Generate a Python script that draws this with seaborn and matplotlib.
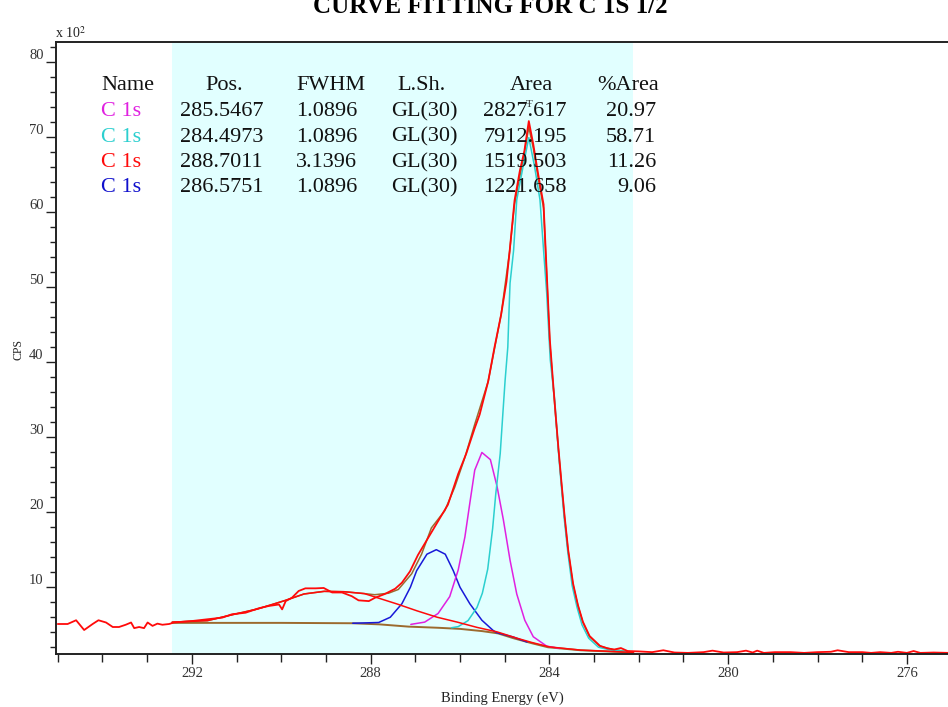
import matplotlib
matplotlib.use("Agg")
import matplotlib.pyplot as plt
import seaborn as sns
from matplotlib.ticker import MultipleLocator

# ---------------- data (binding energy in eV, intensity in CPS x 10^2) ----------------
raw_be = [295.0, 294.78, 294.59, 294.41, 294.22, 294.09, 293.92, 293.77, 293.63, 293.48,
          293.36, 293.29, 293.18, 293.07, 292.99, 292.88, 292.77, 292.66, 292.51, 292.40,
          291.99, 291.62, 291.32, 291.10, 290.80, 290.50, 290.28, 290.05, 289.98, 289.90,
          289.76, 289.61, 289.46, 289.23, 289.05, 288.86, 288.64, 288.42, 288.27, 288.04,
          287.90, 287.68, 287.45, 287.30, 287.12, 286.94, 286.71, 286.49, 286.27, 286.04,
          285.86, 285.67, 285.56, 285.37, 285.23, 285.08, 284.96, 284.89, 284.78, 284.66,
          284.56, 284.46, 284.36, 284.25, 284.13, 284.06, 283.99, 283.92, 283.86, 283.80,
          283.73, 283.66, 283.58, 283.47, 283.36, 283.25, 283.10, 282.87, 282.70, 282.55,
          282.40, 282.25, 282.00, 281.70, 281.45, 281.20, 280.90, 280.55, 280.35, 280.10,
          279.80, 279.60, 279.45, 279.35, 279.20, 278.95, 278.60, 278.30, 278.00, 277.70,
          277.55, 277.30, 277.00, 276.80, 276.60, 276.35, 276.20, 276.00, 275.85, 275.70,
          275.40, 275.05]
raw_cps = [5.1, 5.1, 5.6, 4.3, 5.1, 5.6, 5.3, 4.7, 4.7, 5.0,
           5.3, 4.55, 4.7, 4.55, 5.3, 4.85, 5.15, 5.0, 5.1, 5.3,
           5.5, 5.75, 5.95, 6.4, 6.6, 7.2, 7.5, 7.7, 7.05, 8.15,
           8.6, 9.5, 9.85, 9.85, 9.9, 9.3, 9.3, 8.8, 8.25, 8.15,
           8.6, 9.1, 9.8, 10.6, 12.1, 14.3, 16.6, 18.8, 21.0, 25.1,
           27.8, 31.2, 33.0, 37.4, 41.9, 46.3, 50.7, 54.7, 61.5, 65.5,
           68.1, 72.1, 69.0, 65.0, 61.0, 52.0, 43.0, 37.5, 33.0, 28.7,
           24.0, 19.5, 15.0, 10.5, 7.6, 5.4, 3.5, 2.2, 1.85, 1.7,
           1.9, 1.5, 1.45, 1.35, 1.6, 1.3, 1.25, 1.35, 1.55, 1.3,
           1.35, 1.55, 1.3, 1.55, 1.25, 1.35, 1.35, 1.25, 1.35, 1.4,
           1.6, 1.35, 1.35, 1.25, 1.35, 1.25, 1.4, 1.25, 1.5, 1.25,
           1.3, 1.25]

env_be = [292.44, 291.65, 291.12, 290.53, 289.93, 289.49, 289.04, 288.59, 288.14, 287.91,
          287.60, 287.38, 287.08, 286.86, 286.64, 286.34, 286.12, 285.89, 285.67, 285.37,
          285.08, 284.89, 284.78, 284.56, 284.46, 284.36, 284.25, 284.13, 284.06, 283.99,
          283.92, 283.86, 283.80, 283.73, 283.66, 283.58, 283.47, 283.36, 283.25, 283.10,
          282.87, 282.58, 282.28, 282.12]
env_cps = [5.35, 5.55, 6.3, 7.1, 8.2, 9.1, 9.45, 9.4, 9.15, 9.0,
           9.2, 9.7, 11.8, 14.4, 17.9, 20.2, 23.3, 27.3, 31.7, 37.4,
           46.3, 54.7, 61.0, 67.8, 71.3, 68.5, 64.5, 60.5, 51.5, 42.5,
           37.2, 32.8, 28.5, 23.8, 19.3, 14.8, 10.3, 7.5, 5.3, 3.4,
           2.15, 1.7, 1.45, 1.35]

bg_be = [292.44, 290.00, 288.40, 287.80, 287.15, 286.50, 286.00, 285.50, 285.15, 284.80,
         284.40, 284.03, 283.30, 282.30, 282.12]
bg_cps = [5.25, 5.25, 5.2, 5.05, 4.75, 4.6, 4.45, 4.15, 3.85, 3.2,
          2.55, 2.0, 1.6, 1.35, 1.33]

red_be = [292.44, 291.65, 291.12, 290.53, 289.93, 289.49, 289.04, 288.59, 288.14, 287.40,
          286.96, 286.51, 286.06, 285.62, 285.17, 284.72, 284.40, 284.00, 283.30, 282.30, 282.12]
red_cps = [5.35, 5.55, 6.3, 7.1, 8.2, 9.1, 9.45, 9.4, 9.15, 7.75,
           6.85, 6.0, 5.35, 4.65, 4.05, 3.2, 2.65, 2.05, 1.62, 1.36, 1.34]

blue_be = [288.40, 287.82, 287.56, 287.30, 287.11, 286.97, 286.74, 286.53, 286.33, 286.15,
           286.00, 285.78, 285.51, 285.26, 285.18, 284.80, 284.50]
blue_cps = [5.2, 5.3, 6.0, 7.8, 10.0, 12.2, 14.4, 15.0, 14.4, 12.2,
            10.0, 7.8, 5.6, 4.25, 3.95, 3.35, 2.7]

mag_be = [287.10, 286.79, 286.49, 286.23, 286.04, 285.89, 285.78, 285.67, 285.51, 285.32,
          285.17, 285.03, 284.88, 284.73, 284.55, 284.36, 284.06, 283.77]
mag_cps = [5.05, 5.35, 6.5, 8.75, 12.3, 16.7, 21.2, 25.6, 27.95, 27.0,
           23.4, 19.0, 13.6, 9.1, 5.6, 3.4, 2.15, 1.85]

cyan_be = [286.19, 286.04, 285.82, 285.62, 285.50, 285.38, 285.27, 285.20, 285.10, 285.04,
           284.99, 284.93, 284.90, 284.88, 284.80, 284.73, 284.59, 284.46, 284.33, 284.21,
           284.13, 284.06, 283.98, 283.88, 283.80, 283.74, 283.67, 283.59, 283.49, 283.38,
           283.27, 283.12, 282.90, 282.60, 282.30]
cyan_cps = [4.6, 4.75, 5.55, 7.3, 9.2, 12.4, 17.8, 22.4, 27.8, 33.2,
            37.6, 42.0, 47.3, 50.5, 54.9, 61.6, 66.0, 69.9, 66.0, 61.6,
            54.9, 49.2, 40.3, 34.8, 28.3, 24.0, 19.3, 14.8, 10.2, 7.3,
            5.0, 3.2, 2.0, 1.6, 1.45]

region = (292.44, 282.12)

# table
names = ["C 1s", "C 1s", "C 1s", "C 1s"]
positions = ["285.5467", "284.4973", "288.7011", "286.5751"]
fwhms = ["1.0896", "1.0896", "3.1396", "1.0896"]
shapes = ["GL(30)", "GL(30)", "GL(30)", "GL(30)"]
areas = ["2827.617", "7912.195", "1519.503", "1221.658"]
pct_areas = ["20.97", "58.71", "11.26", "9.06"]

# ---------------- style ----------------
C_RED = "#FF0A0A"
C_BROWN = "#9C6A2E"
C_BLUE = "#1818D8"
C_MAG = "#E020E0"
C_CYAN = "#2CCFCF"
row_colors = [C_MAG, C_CYAN, C_RED, "#1010CC"]

sns.set_style("ticks")
plt.rcParams["font.family"] = ["Liberation Serif", "DejaVu Serif"]
plt.rcParams["mathtext.fontset"] = "stix"

W, H = 948, 707
fig = plt.figure(figsize=(W / 100, H / 100), dpi=100)
ax_l, ax_r, ax_t, ax_b = 56, 948, 41.5, 653.5
ax = fig.add_axes([ax_l / W, 1 - ax_b / H, (ax_r - ax_l) / W, (ax_b - ax_t) / H])

ax.axvspan(region[0], region[1], color="#E1FFFF", lw=0, zorder=0)

lw = 1.1
sns.lineplot(x=bg_be, y=bg_cps, ax=ax, color=C_BROWN, linewidth=lw + 0.3, sort=False, estimator=None)
sns.lineplot(x=env_be, y=env_cps, ax=ax, color=C_BROWN, linewidth=lw, sort=False, estimator=None)
sns.lineplot(x=blue_be, y=blue_cps, ax=ax, color=C_BLUE, linewidth=lw, sort=False, estimator=None)
sns.lineplot(x=mag_be, y=mag_cps, ax=ax, color=C_MAG, linewidth=lw, sort=False, estimator=None)
sns.lineplot(x=cyan_be, y=cyan_cps, ax=ax, color=C_CYAN, linewidth=lw, sort=False, estimator=None)
sns.lineplot(x=red_be, y=red_cps, ax=ax, color=C_RED, linewidth=lw, sort=False, estimator=None)
sns.lineplot(x=raw_be, y=raw_cps, ax=ax, color=C_RED, linewidth=lw + 0.2, sort=False, estimator=None)

ax.set_xlim(295.04, 275.08)
ax.set_ylim(1.17, 82.7)

ax.xaxis.set_major_locator(MultipleLocator(4))
ax.xaxis.set_minor_locator(MultipleLocator(1))
ax.yaxis.set_major_locator(MultipleLocator(10))
ax.yaxis.set_minor_locator(MultipleLocator(2))
ax.set_yticks([10, 20, 30, 40, 50, 60, 70, 80])
ax.set_xticks([292, 288, 284, 280, 276])

for s in ["left", "bottom", "top"]:
    ax.spines[s].set_color("#222222")
    ax.spines[s].set_linewidth(1.4)
ax.spines["right"].set_visible(False)

ax.tick_params(axis="both", which="major", direction="out", length=7, width=1.0,
               color="#222222", labelsize=10.5, labelcolor="#333333")
ax.tick_params(axis="y", which="minor", direction="out", length=4, width=1.0, color="#222222")
ax.tick_params(axis="x", which="minor", direction="out", length=6, width=1.0, color="#222222")
ax.tick_params(axis="x", which="major", pad=3)
ax.tick_params(axis="y", which="major", pad=2)
for lab in ax.get_yticklabels():
    lab.set_va("bottom")

ax.set_xlabel("Binding Energy (eV)", fontsize=10.5, color="#222222")
ax.xaxis.set_label_coords(0.5, (ax_b - 698) / (ax_b - ax_t))
ax.xaxis.label.set_va("center")
ax.set_ylabel("CPS", fontsize=8.5, color="#222222")
ax.yaxis.set_label_coords((19 - ax_l) / (ax_r - ax_l), (ax_b - 350) / (ax_b - ax_t))
ax.yaxis.label.set_va("center")

# multiplier
fig.text(55 / W, 1 - 38 / H, r"x 10$^{2}$", fontsize=10, color="#222222", va="baseline", ha="left")

# title (clipped at top as in reference)
fig.text(490 / W, 1 - 13 / H, "CURVE FITTING FOR C 1S 1/2", fontsize=18, fontweight="bold",
         ha="center", va="baseline", color="black")

# peak marker
ax.text(284.46, 74.3, "Ŧ", fontsize=8, ha="center", va="center", color="#333333")

# fit table
def ftxt(px, py, s, ha="left", color="#111111"):
    fig.text(px / W, 1 - py / H, s, fontsize=16, ha=ha, va="center", color=color)

rows_y = [86, 111.5, 137, 162.5, 188]
ftxt(101, rows_y[0], "Name")
ftxt(224, rows_y[0], "Pos.", ha="center")
ftxt(296, rows_y[0], "FWHM")
ftxt(397, rows_y[0], "L.Sh.")
ftxt(510, rows_y[0], "Area")
ftxt(597, rows_y[0], "%Area")
for i in range(4):
    y = rows_y[i + 1]
    ftxt(101, y, names[i], color=row_colors[i])
    ftxt(180, y, positions[i])
    ftxt(296, y, fwhms[i])
    ftxt(391, y, shapes[i])
    ftxt(483, y, areas[i])
    ftxt(656, y, pct_areas[i], ha="right")

fig.savefig("out.png", dpi=100)
